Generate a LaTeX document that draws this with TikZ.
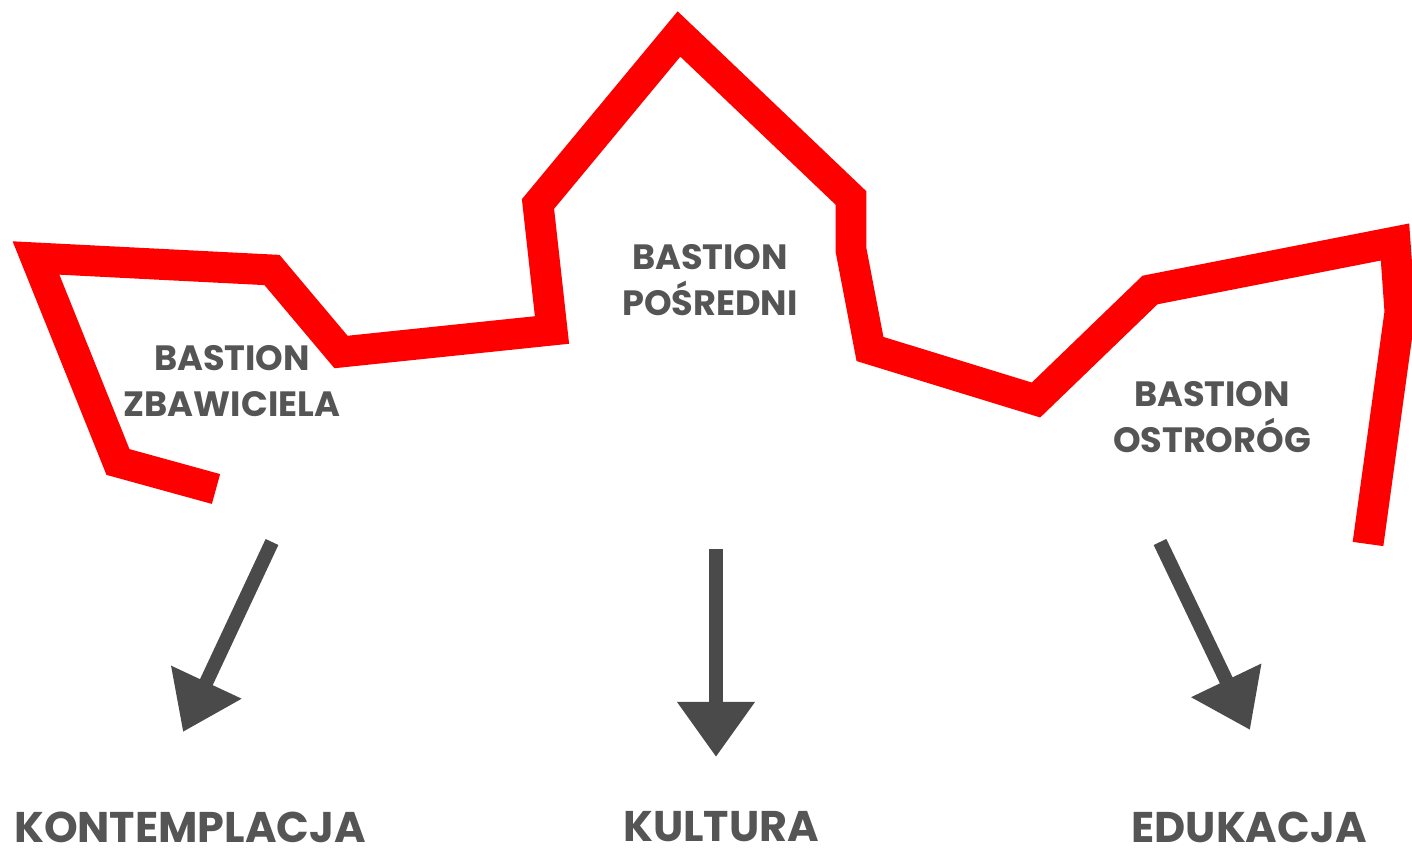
\documentclass[tikz,border=0pt]{standalone}
\usepackage{fontspec}
\setmainfont{Poppins}
\usetikzlibrary{arrows.meta}
\definecolor{napis}{HTML}{555555}
\definecolor{strzalka}{HTML}{4A4A4A}
\begin{document}
\begin{tikzpicture}[x=0.01cm,y=-0.01cm,
    etykieta/.style={text=napis,font=\bfseries\fontsize{10}{13}\selectfont,align=center},
    haslo/.style={text=napis,font=\bfseries\fontsize{12.2}{14}\selectfont},
    strz/.style={strzalka,line width=4pt,-{Triangle[length=0.55cm,width=0.74cm]}}]
      \useasboundingbox (0,0) rectangle (1412,852);

      \draw[red,line width=8.8pt] (216,489)--(118,462)--(36,258)--(272,270)--(341,352)--(552,330)--(538,204)--(679,34)
        --(851,198)--(851,250)--(870,349)--(1036,400)--(1150,290)--(1395,242)--(1400,312)--(1368,544); %bastiony

      \node[etykieta] (zbaw) at (232,381) {BASTION\\ZBAWICIELA};
      \node[etykieta] (posr) at (710,280) {BASTION\\POŚREDNI};
      \node[etykieta] (ostr) at (1212,417) {BASTION\\OSTRORÓG};

      \node[haslo] (kont) at (190,827) {KONTEMPLACJA};
      \node[haslo] (kult) at (721,827) {KULTURA};
      \node[haslo] (eduk) at (1249,827) {EDUKACJA};

      \coordinate (s1) at (272,542); \coordinate (t1) at (183,732);
      \coordinate (s2) at (716,549); \coordinate (t2) at (716,757);
      \coordinate (s3) at (1160,542); \coordinate (t3) at (1250,730);
      \draw[strz] (s1)--(t1); %strzalki
      \draw[strz] (s2)--(t2);
      \draw[strz] (s3)--(t3);
    \end{tikzpicture}
\end{document}
